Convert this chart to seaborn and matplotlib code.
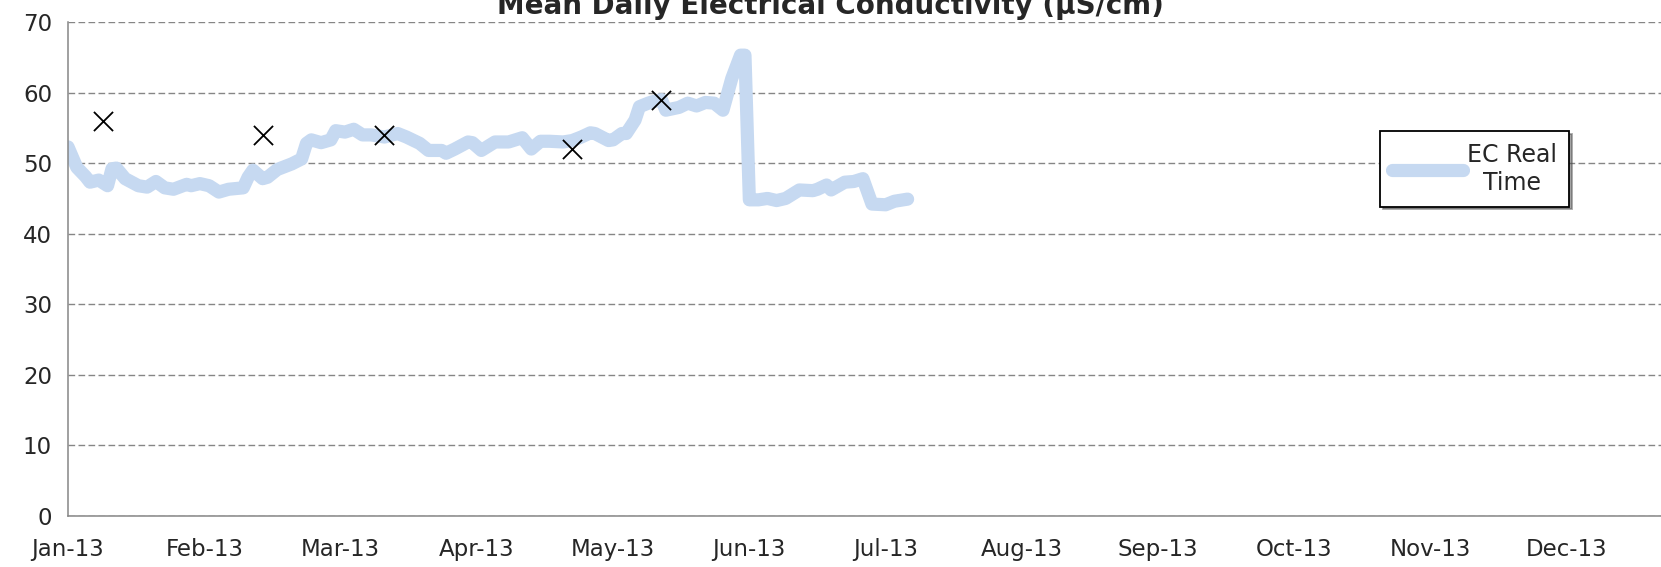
import numpy as np
import pandas as pd
import matplotlib
matplotlib.use("Agg")
import matplotlib.pyplot as plt
import seaborn as sns

sns.set_style("white")
plt.rcParams['font.family'] = ['DejaVu Sans']

# daily mean EC, real-time probe
ec_dates = ["2013-01-01", "2013-01-03", "2013-01-05", "2013-01-06", "2013-01-08",
            "2013-01-10", "2013-01-11", "2013-01-12", "2013-01-14", "2013-01-17",
            "2013-01-19", "2013-01-21", "2013-01-23", "2013-01-25", "2013-01-28",
            "2013-01-29", "2013-01-31", "2013-02-02", "2013-02-04", "2013-02-06",
            "2013-02-09", "2013-02-10", "2013-02-11", "2013-02-13", "2013-02-14",
            "2013-02-16", "2013-02-19", "2013-02-21", "2013-02-22", "2013-02-23",
            "2013-02-25", "2013-02-27", "2013-02-28", "2013-03-02", "2013-03-04",
            "2013-03-06", "2013-03-08", "2013-03-11", "2013-03-14", "2013-03-16",
            "2013-03-19", "2013-03-21", "2013-03-24", "2013-03-25", "2013-03-27",
            "2013-03-30", "2013-03-31", "2013-04-02", "2013-04-05", "2013-04-08",
            "2013-04-11", "2013-04-13", "2013-04-15", "2013-04-17", "2013-04-20",
            "2013-04-22", "2013-04-24", "2013-04-26", "2013-04-27", "2013-04-30",
            "2013-05-01", "2013-05-03", "2013-05-04", "2013-05-06", "2013-05-07",
            "2013-05-09", "2013-05-10", "2013-05-12", "2013-05-13", "2013-05-16",
            "2013-05-18", "2013-05-20", "2013-05-22", "2013-05-24", "2013-05-26",
            "2013-05-28", "2013-05-30", "2013-05-31", "2013-06-01", "2013-06-03",
            "2013-06-05", "2013-06-07", "2013-06-09", "2013-06-12", "2013-06-15",
            "2013-06-16", "2013-06-18", "2013-06-19", "2013-06-22", "2013-06-24",
            "2013-06-26", "2013-06-28", "2013-07-01", "2013-07-03", "2013-07-06"]
ec_values = [52.3, 49.4, 48.1, 47.3, 47.6,
             46.8, 49.2, 49.3, 47.8, 46.8,
             46.6, 47.4, 46.5, 46.3, 47.0,
             46.8, 47.1, 46.8, 45.9, 46.3,
             46.5, 48.0, 49.0, 47.8, 48.0,
             49.1, 49.9, 50.6, 52.8, 53.3,
             52.9, 53.3, 54.6, 54.4, 54.8,
             54.0, 54.0, 53.7, 54.2, 53.7,
             52.8, 51.8, 51.8, 51.4, 52.0,
             53.0, 52.9, 51.8, 53.0, 53.0,
             53.6, 52.0, 53.1, 53.1, 53.0,
             53.2, 53.7, 54.3, 54.2, 53.2,
             53.3, 54.2, 54.2, 56.1, 58.0,
             58.5, 58.7, 59.0, 57.5, 57.9,
             58.5, 58.1, 58.6, 58.5, 57.5,
             62.0, 65.3, 65.3, 44.8, 44.8,
             45.0, 44.7, 45.0, 46.2, 46.1,
             46.3, 46.9, 46.2, 47.3, 47.4,
             47.8, 44.2, 44.1, 44.6, 44.9]

# grab samples
grab_dates = ["2013-01-09", "2013-02-13", "2013-03-11", "2013-04-22", "2013-05-12"]
grab_values = [56, 54, 54, 52, 59]

month_labels = ["Jan-13", "Feb-13", "Mar-13", "Apr-13", "May-13", "Jun-13",
                "Jul-13", "Aug-13", "Sep-13", "Oct-13", "Nov-13", "Dec-13"]


def month_pos(dates):
    # excel-style month axis: every month gets the same width
    d = pd.to_datetime(pd.Series(dates))
    return (d.dt.month - 1) + (d.dt.day - 1) / d.dt.days_in_month


ec = pd.DataFrame({"x": month_pos(ec_dates), "ec": ec_values})
grab = pd.DataFrame({"x": month_pos(grab_dates), "ec": grab_values})

fig = plt.figure(figsize=(16.61, 5.67), dpi=100)
ax = fig.add_axes([68 / 1661, 51 / 567, 1 - 68 / 1661, 494 / 567])

sns.lineplot(data=ec, x="x", y="ec", ax=ax, color="#C6D9F1", linewidth=9.5,
             sort=False, label="EC Real\nTime", solid_capstyle="round",
             solid_joinstyle="round")
sns.scatterplot(data=grab, x="x", y="ec", ax=ax, marker="x", color="black",
                s=190, linewidth=1.3, legend=False, zorder=3)

ax.set_xlim(0, 11.69)
ax.set_ylim(0, 70)
ax.set_xticks(range(12))
ax.set_xticklabels(month_labels)
ax.set_yticks(range(0, 71, 10))
ax.set_xlabel("")
ax.set_ylabel("")

ax.yaxis.grid(True, color="#868686", linestyle=(0, (4.8, 2.4)), linewidth=1.0)
ax.set_axisbelow(True)
for s in ["top", "right"]:
    ax.spines[s].set_visible(False)
for s in ["left", "bottom"]:
    ax.spines[s].set_color("#868686")
    ax.spines[s].set_linewidth(1.1)
ax.tick_params(axis="both", which="major", direction="out", length=4.5,
               width=1.1, color="#868686", labelsize=16.5)
ax.tick_params(axis="x", pad=11)
ax.tick_params(axis="y", pad=7)

leg = ax.legend(loc="upper left", bbox_to_anchor=(0.8236, 0.779), borderaxespad=0,
                frameon=True, fancybox=False, shadow=True, fontsize=17,
                handlelength=3.0, handletextpad=0.2, borderpad=0.5)
leg.get_frame().set_edgecolor("black")
leg.get_frame().set_linewidth(1.3)
for t in leg.get_texts():
    t.set_multialignment("center")

fig.text(0.5, 0.976, "Mean Daily Electrical Conductivity (µS/cm)", ha="center",
         va="baseline", fontsize=20, fontweight="bold")

fig.savefig("out.png", dpi=100)
